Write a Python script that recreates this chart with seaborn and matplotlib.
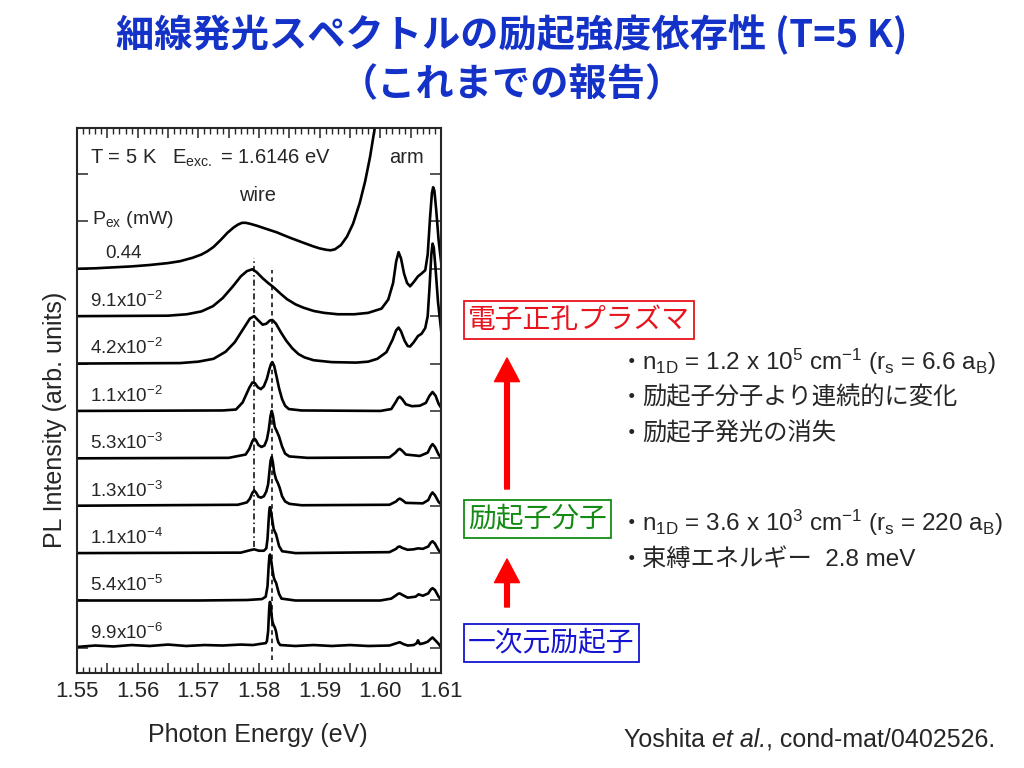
import numpy as np
import pandas as pd
import matplotlib
matplotlib.use("Agg")
import matplotlib.pyplot as plt
from matplotlib.ticker import MultipleLocator, FuncFormatter
from matplotlib.patches import FancyArrowPatch
import seaborn as sns

# excitation powers (mW), top to bottom
labels = ["0.44", "9.1x10$^{-2}$", "4.2x10$^{-2}$", "1.1x10$^{-2}$", "5.3x10$^{-3}$",
          "1.3x10$^{-3}$", "1.1x10$^{-4}$", "5.4x10$^{-5}$", "9.9x10$^{-6}$"]
offsets = [8, 7, 6, 5, 4, 3, 2, 1, 0]

# spectra: photon energy (eV) and height in units of the trace spacing
e_044 = [1.550, 1.553, 1.556, 1.559, 1.562, 1.565, 1.567, 1.569, 1.5705, 1.5715, 1.5725,
         1.5737, 1.5748, 1.5758, 1.5765, 1.5772, 1.5778, 1.5785, 1.5796, 1.581, 1.5829,
         1.585, 1.5873, 1.589, 1.590, 1.5911, 1.5918, 1.5925, 1.5935, 1.5945, 1.5955,
         1.5966, 1.5975, 1.5983, 1.5991, 1.5998]
i_044 = [0.0, 0.01, 0.03, 0.05, 0.08, 0.12, 0.16, 0.23, 0.30, 0.37, 0.46,
         0.61, 0.76, 0.87, 0.93, 0.97, 0.97, 0.95, 0.91, 0.85, 0.77,
         0.66, 0.55, 0.47, 0.43, 0.40, 0.39, 0.41, 0.50, 0.68, 0.95,
         1.39, 1.85, 2.36, 2.99, 3.6]

e_91m2 = [1.550, 1.565, 1.5681, 1.5705, 1.5724, 1.574, 1.5757, 1.577, 1.578, 1.5789, 1.5796,
          1.5806, 1.5815, 1.5824, 1.5835, 1.5846, 1.586, 1.5873, 1.589, 1.5907, 1.593,
          1.5957, 1.598, 1.6002, 1.6013, 1.6021, 1.6026, 1.6030, 1.6034, 1.6039, 1.6044,
          1.6049, 1.6055, 1.6062, 1.6068, 1.6074, 1.6078, 1.6082, 1.6085, 1.6087, 1.6089,
          1.6092, 1.6096, 1.6101]
i_91m2 = [0.0, 0.01, 0.04, 0.10, 0.21, 0.38, 0.63, 0.84, 0.95, 0.99, 0.93,
          0.80, 0.70, 0.61, 0.48, 0.36, 0.25, 0.18, 0.11, 0.07, 0.04,
          0.04, 0.07, 0.16, 0.35, 0.70, 1.15, 1.35, 1.22, 0.90, 0.70,
          0.63, 0.72, 0.84, 0.90, 0.97, 1.30, 2.10, 2.60, 2.72, 2.65,
          2.25, 1.60, 1.05]

e_42m2 = [1.550, 1.567, 1.570, 1.5725, 1.5745, 1.576, 1.5775, 1.5785, 1.5792, 1.5798, 1.5806,
          1.5812, 1.5818, 1.5822, 1.5828, 1.5836, 1.5845, 1.5855, 1.5865, 1.5875, 1.589,
          1.592, 1.596, 1.598, 1.5995, 1.601, 1.602, 1.6026, 1.6030, 1.6034, 1.6040,
          1.6045, 1.6049, 1.6055, 1.6062, 1.6068, 1.6074, 1.6078, 1.6081, 1.6084, 1.6086,
          1.6088, 1.6091, 1.6095, 1.6101]
i_42m2 = [0.0, 0.01, 0.04, 0.10, 0.25, 0.45, 0.75, 0.95, 1.0, 0.92, 0.82,
          0.84, 0.91, 0.92, 0.84, 0.66, 0.48, 0.32, 0.20, 0.13, 0.07,
          0.03, 0.02, 0.04, 0.10, 0.24, 0.50, 0.70, 0.76, 0.68, 0.48,
          0.37, 0.36, 0.45, 0.58, 0.63, 0.75, 1.0, 1.6, 2.3, 2.53,
          2.45, 2.0, 1.3, 0.6]

e_11m2 = [1.550, 1.574, 1.5762, 1.5773, 1.5784, 1.5789, 1.5793, 1.5798, 1.5803, 1.5808, 1.5813,
          1.5817, 1.5820, 1.5822, 1.5825, 1.5829, 1.5833, 1.5838, 1.5843, 1.5849, 1.587,
          1.600, 1.6018, 1.6025, 1.6029, 1.6032, 1.6036, 1.6042, 1.6052, 1.6065, 1.6075,
          1.6081, 1.6086, 1.6091, 1.6096, 1.6101]
i_11m2 = [0.0, 0.01, 0.03, 0.18, 0.49, 0.60, 0.59, 0.50, 0.46, 0.52, 0.68,
          0.88, 1.0, 1.03, 0.95, 0.72, 0.48, 0.25, 0.11, 0.04, 0.01,
          0.0, 0.04, 0.18, 0.27, 0.30, 0.25, 0.14, 0.10, 0.11, 0.17,
          0.32, 0.40, 0.32, 0.15, 0.05]

e_53m3 = [1.550, 1.575, 1.5778, 1.5784, 1.5789, 1.5792, 1.5795, 1.5799, 1.5804, 1.5809, 1.5813,
          1.5816, 1.5819, 1.5821, 1.5823, 1.5826, 1.5829, 1.5833, 1.5838, 1.5843, 1.585,
          1.588, 1.6015, 1.6025, 1.6029, 1.6032, 1.6036, 1.6042, 1.6065, 1.6078, 1.6083,
          1.6086, 1.6090, 1.6096, 1.6101]
i_53m3 = [0.0, 0.01, 0.08, 0.20, 0.36, 0.42, 0.38, 0.28, 0.24, 0.27, 0.40,
          0.60, 0.90, 1.0, 0.90, 0.66, 0.58, 0.46, 0.25, 0.10, 0.04,
          0.01, 0.02, 0.12, 0.18, 0.20, 0.16, 0.08, 0.05, 0.12, 0.25,
          0.30, 0.24, 0.08, 0.0]

e_13m3 = [1.550, 1.5765, 1.578, 1.5785, 1.5789, 1.5792, 1.5795, 1.5799, 1.5803, 1.5808, 1.5812,
          1.5815, 1.5817, 1.5819, 1.5821, 1.5823, 1.5825, 1.5828, 1.5831, 1.5834, 1.5838,
          1.5843, 1.585, 1.587, 1.6015, 1.6026, 1.6029, 1.6032, 1.6036, 1.6042, 1.607,
          1.6079, 1.6083, 1.6086, 1.6090, 1.6096, 1.6101]
i_13m3 = [0.0, 0.02, 0.07, 0.15, 0.27, 0.32, 0.28, 0.19, 0.17, 0.20, 0.30,
          0.45, 0.70, 0.95, 1.03, 0.90, 0.70, 0.56, 0.48, 0.38, 0.20,
          0.09, 0.04, 0.01, 0.02, 0.09, 0.13, 0.15, 0.12, 0.06, 0.05,
          0.12, 0.23, 0.28, 0.22, 0.08, 0.02]

e_11m4 = [1.550, 1.577, 1.5785, 1.5792, 1.580, 1.5808, 1.5812, 1.5814, 1.5816, 1.5817, 1.5818,
          1.5820, 1.5822, 1.5824, 1.5826, 1.5828, 1.5830, 1.5833, 1.5838, 1.586, 1.6015,
          1.6026, 1.6029, 1.6032, 1.6036, 1.6045, 1.6055, 1.6062, 1.607, 1.6079, 1.6083,
          1.6086, 1.6090, 1.6096, 1.6101]
i_11m4 = [0.0, 0.01, 0.06, 0.08, 0.05, 0.05, 0.10, 0.30, 0.72, 0.90, 0.97,
          0.86, 0.68, 0.52, 0.45, 0.40, 0.30, 0.15, 0.04, 0.0, 0.02,
          0.09, 0.13, 0.14, 0.11, 0.07, 0.08, 0.10, 0.09, 0.14, 0.22,
          0.25, 0.20, 0.06, 0.0]

e_54m5 = [1.550, 1.570, 1.578, 1.5805, 1.5811, 1.5814, 1.5816, 1.5817, 1.5818, 1.5820, 1.5822,
          1.5824, 1.5826, 1.5828, 1.5830, 1.5833, 1.5837, 1.586, 1.600, 1.6018, 1.6026,
          1.6029, 1.6032, 1.6036, 1.6045, 1.6058, 1.6063, 1.607, 1.6079, 1.6083, 1.6086,
          1.6090, 1.6096, 1.6101]
i_54m5 = [0.0, 0.0, 0.01, 0.03, 0.08, 0.30, 0.75, 0.92, 0.97, 0.85, 0.66,
          0.50, 0.42, 0.38, 0.28, 0.14, 0.04, 0.0, 0.0, 0.04, 0.11,
          0.14, 0.15, 0.12, 0.06, 0.08, 0.13, 0.10, 0.15, 0.23, 0.26,
          0.22, 0.08, 0.0]

e_99m6 = [1.550, 1.553, 1.556, 1.559, 1.562, 1.565, 1.568, 1.571, 1.574, 1.577, 1.579,
          1.5805, 1.5811, 1.5813, 1.5815, 1.5816, 1.5817, 1.5818, 1.5819, 1.5820, 1.5821,
          1.5822, 1.5824, 1.5826, 1.5828, 1.5830, 1.5832, 1.5835, 1.586, 1.589, 1.592,
          1.595, 1.598, 1.6015, 1.6027, 1.6032, 1.6038, 1.6045, 1.6055, 1.6060, 1.6062,
          1.6065, 1.6072, 1.6078, 1.6083, 1.6086, 1.6089, 1.6095, 1.6101]
i_99m6 = [0.02, 0.05, 0.03, 0.06, 0.04, 0.07, 0.04, 0.06, 0.05, 0.07, 0.06,
          0.09, 0.10, 0.14, 0.35, 0.62, 0.88, 0.97, 0.92, 0.80, 0.66,
          0.56, 0.48, 0.43, 0.35, 0.20, 0.11, 0.06, 0.04, 0.06, 0.04,
          0.06, 0.04, 0.05, 0.10, 0.12, 0.08, 0.05, 0.06, 0.10, 0.16,
          0.08, 0.10, 0.13, 0.19, 0.22, 0.18, 0.10, 0.0]

energies = [e_044, e_91m2, e_42m2, e_11m2, e_53m3, e_13m3, e_11m4, e_54m5, e_99m6]
heights = [i_044, i_91m2, i_42m2, i_11m2, i_53m3, i_13m3, i_11m4, i_54m5, i_99m6]

wire_lines_e = [1.5792, 1.5822]
wire_lines_y = [(2.13, 8.23), (-0.25, 7.97)]

rows = []
for k, (es, hs) in enumerate(zip(energies, heights)):
    for e, h in zip(es, hs):
        rows.append({"E": e, "y": offsets[k] + h, "trace": k})
df = pd.DataFrame(rows)

sns.set_style("ticks")
plt.rcParams['font.family'] = ['Liberation Sans', 'Noto Sans CJK JP', 'DejaVu Sans']
plt.rcParams['mathtext.fontset'] = 'custom'
plt.rcParams['mathtext.rm'] = 'Liberation Sans'
plt.rcParams['mathtext.it'] = 'Liberation Sans:italic'

fig = plt.figure(figsize=(10.24, 7.68), dpi=100)
fig.patch.set_facecolor('white')
ax = fig.add_axes([0.0752, 0.1237, 0.3555, 0.7096])

sns.lineplot(data=df, x='E', y='y', units='trace', estimator=None, color='black',
             lw=1.9, legend=False, ax=ax)

ax.vlines(wire_lines_e[0], *wire_lines_y[0], colors='black', lw=1.1, linestyles=(0, (4, 2, 1, 2)))
ax.vlines(wire_lines_e[1], *wire_lines_y[1], colors='black', lw=1.1, linestyles=(0, (3, 2.5)))

ax.set_xlim(1.55, 1.61)
ax.set_ylim(-0.53, 10.97)
ax.xaxis.set_major_locator(MultipleLocator(0.005))
ax.xaxis.set_minor_locator(MultipleLocator(0.001))
ax.xaxis.set_major_formatter(FuncFormatter(
    lambda v, p: f"{v:.2f}" if abs(v * 100 - round(v * 100)) < 1e-6 else ""))
ax.set_yticks(range(11))
ax.set_yticklabels([])
ax.tick_params(axis='x', which='major', direction='in', top=True, bottom=True,
               length=7, width=1.1, labelsize=16, pad=6)
ax.tick_params(axis='x', which='minor', direction='in', top=True, bottom=True,
               length=4, width=1.0)
ax.tick_params(axis='y', direction='in', left=True, right=True, length=8, width=1.1)
for s in ax.spines.values():
    s.set_linewidth(1.5)
ax.set_xlabel('')
ax.set_ylabel('')

# in-plot annotations
ax.text(1.5521, 10.34, "T = 5 K   E$_{\\mathrm{exc.}}$ = 1.6146 eV", fontsize=14.5, va='center')
ax.text(1.6043, 10.34, "arm", fontsize=14.5, va='center', ha='center')
ax.text(1.5797, 9.54, "wire", fontsize=14.5, va='center', ha='center')
ax.text(1.5525, 9.03, "P$_{\\mathrm{ex}}$ (mW)", fontsize=14, va='center')
for k, lab in enumerate(labels):
    xx = 1.5546 if k == 0 else 1.5521
    ax.text(xx, offsets[k] + 0.32, lab, fontsize=13.5, va='center')

fig.text(258 / 1024, 1 - 735 / 768, "Photon Energy (eV)", fontsize=18, ha='center', va='center')
fig.text(55 / 1024, 1 - 420 / 768, "PL Intensity (arb. units)", fontsize=18, rotation=90,
         ha='center', va='center')

# title
title_c = '#1432c8'
cjk = ['Noto Sans CJK JP', 'DejaVu Sans']
mixed = ['Liberation Sans', 'Noto Sans CJK JP', 'DejaVu Sans']
fig.text(0.5, 1 - 35 / 768, "細線発光スペクトルの励起強度依存性 (T=5 K)", family=cjk,
         fontsize=27.5, fontweight='bold', color=title_c, ha='center', va='center')
fig.text(0.5, 1 - 85 / 768, "（これまでの報告）", family=cjk,
         fontsize=27.5, fontweight='bold', color=title_c, ha='center', va='center')

# state boxes
boxes = [("電子正孔プラズマ", '#e8141e', 320), ("励起子分子", '#148c14', 519), ("一次元励起子", '#1414d2', 643)]
for txt, c, yy in boxes:
    fig.text(468 / 1024, 1 - yy / 768, txt, family=cjk, fontsize=20, color=c, va='center',
             bbox=dict(boxstyle='square,pad=0.15', fc='white', ec=c, lw=1.3))

for y_tail, y_tip in [(489, 358), (607, 559)]:
    arr = FancyArrowPatch((507 / 1024, 1 - y_tail / 768), (507 / 1024, 1 - y_tip / 768),
                          transform=fig.transFigure,
                          arrowstyle='simple,head_width=1.8,head_length=1.7,tail_width=0.34',
                          mutation_scale=10, color='#ff0000', shrinkA=0, shrinkB=0)
    fig.add_artist(arr)

# bullet notes
notes = [(362, "n$_{\\mathrm{1D}}$ = 1.2 x 10$^{5}$ cm$^{-1}$ (r$_{\\mathrm{s}}$ = 6.6 a$_{\\mathrm{B}}$)", False),
         (397, "励起子分子より連続的に変化", True),
         (433, "励起子発光の消失", True),
         (523, "n$_{\\mathrm{1D}}$ = 3.6 x 10$^{3}$ cm$^{-1}$ (r$_{\\mathrm{s}}$ = 220 a$_{\\mathrm{B}}$)", False),
         (560, "束縛エネルギー  2.8 meV", True)]
for yy, txt, is_cjk in notes:
    fig.text(620 / 1024, 1 - yy / 768, "・", family=cjk, fontsize=17, va='center')
    fig.text(642 / 1024, 1 - yy / 768, txt, family=mixed if is_cjk else ['Liberation Sans'],
             fontsize=17.5, va='center')

# citation, pieced together so the italic part sits tight
renderer = fig.canvas.get_renderer()
xpos = 624
for piece, style in [("Yoshita ", 'normal'), ("et al.", 'italic'), (", cond-mat/0402526.", 'normal')]:
    t = fig.text(xpos / 1024, 1 - 740 / 768, piece, fontsize=18, style=style, va='center')
    xpos = t.get_window_extent(renderer).x1

fig.savefig('out.png', dpi=100, facecolor='white')
